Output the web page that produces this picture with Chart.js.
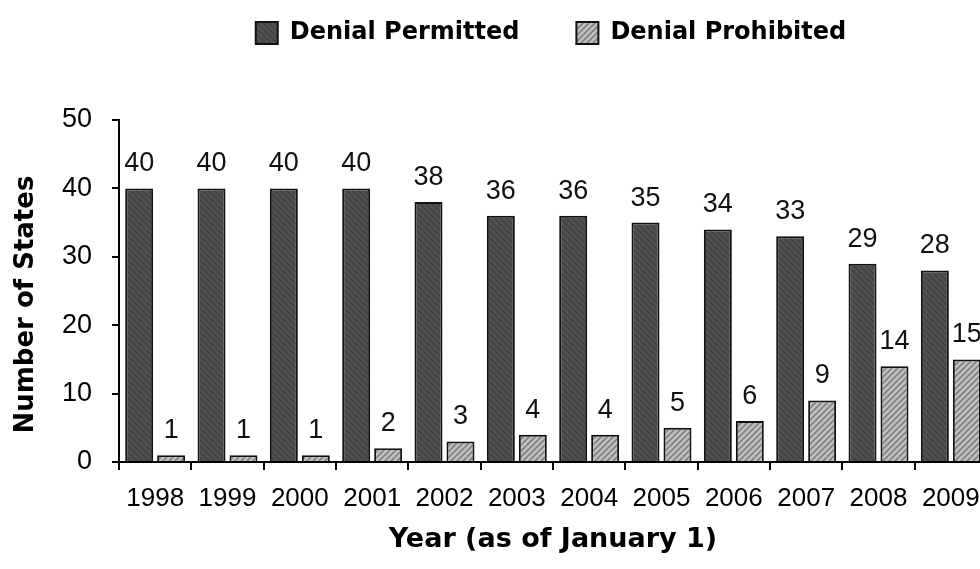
<!DOCTYPE html>
<html>
<head>
<meta charset="utf-8">
<script src="https://cdn.jsdelivr.net/npm/chart.js@4.4.1/dist/chart.umd.min.js"></script>
<style>
  html, body { margin: 0; padding: 0; background: #fff; overflow: hidden; }
  #wrap { width: 1102px; height: 569px; }
</style>
</head>
<body>
<div id="wrap"><canvas id="c" width="1102" height="569"></canvas></div>
<script>
const years = ['1998','1999','2000','2001','2002','2003','2004','2005','2006','2007','2008','2009'];
const denialPermitted = [40, 40, 40, 40, 38, 36, 36, 35, 34, 33, 29, 28];
const denialProhibited = [1, 1, 1, 2, 3, 4, 4, 5, 6, 9, 14, 15];
const seriesNames = ['Denial Permitted', 'Denial Prohibited'];
const yTicks = [0, 10, 20, 30, 40, 50];

function makePattern(bg, fg, dir, size, lw) {
  const c = document.createElement('canvas');
  c.width = size; c.height = size;
  const x = c.getContext('2d');
  x.fillStyle = bg; x.fillRect(0, 0, size, size);
  x.strokeStyle = fg; x.lineWidth = lw;
  x.beginPath();
  if (dir === '/') {
    x.moveTo(0, size); x.lineTo(size, 0);
    x.moveTo(-1, 1); x.lineTo(1, -1);
    x.moveTo(size - 1, size + 1); x.lineTo(size + 1, size - 1);
  } else {
    x.moveTo(0, 0); x.lineTo(size, size);
    x.moveTo(-1, size - 1); x.lineTo(1, size + 1);
    x.moveTo(size - 1, -1); x.lineTo(size + 1, 1);
  }
  x.stroke();
  return document.getElementById('c').getContext('2d').createPattern(c, 'repeat');
}

const darkFill = makePattern('#505050', '#414141', '\\', 6, 1.4);
const lightFill = makePattern('#c0c0c0', '#808080', '/', 6, 1.6);

const valueLabels = {
  id: 'valueLabels',
  afterDatasetsDraw(chart) {
    const ctx = chart.ctx;
    ctx.save();
    ctx.font = '27px "Liberation Sans", Arial, sans-serif';
    ctx.fillStyle = '#111';
    ctx.textAlign = 'center';
    ctx.textBaseline = 'alphabetic';
    chart.data.datasets.forEach((ds, i) => {
      const meta = chart.getDatasetMeta(i);
      meta.data.forEach((el, j) => {
        ctx.fillText(String(ds.data[j]), el.x, el.y - 17);
      });
    });
    ctx.restore();
  }
};

const legendFix = {
  id: 'legendFix',
  beforeLayout(chart) {
    const lg = chart.legend;
    if (lg && !lg._patched) {
      const f = lg.fit;
      lg.fit = function () { f.call(this); this.height = 156; };
      lg._patched = true;
    }
  }
};

new Chart(document.getElementById('c'), {
  type: 'bar',
  data: {
    labels: years,
    datasets: [
      { label: seriesNames[0], data: denialPermitted, backgroundColor: darkFill, borderColor: '#111', borderWidth: 2 },
      { label: seriesNames[1], data: denialProhibited, backgroundColor: lightFill, borderColor: '#111', borderWidth: 2 }
    ]
  },
  options: {
    responsive: false,
    animation: false,
    devicePixelRatio: 1,
    layout: { padding: { top: -36, left: 0, right: 0, bottom: 0 } },
    datasets: { bar: { categoryPercentage: 0.884, barPercentage: 0.875 } },
    plugins: {
      tooltip: { enabled: false },
      legend: {
        position: 'top',
        labels: {
          boxWidth: 22, boxHeight: 22, padding: 57,
          color: '#000',
          font: { family: '"DejaVu Sans", sans-serif', size: 24, weight: 'bold' }
        }
      }
    },
    scales: {
      x: {
        grid: { display: true, offset: true, drawOnChartArea: false, drawTicks: true, tickLength: 8, color: '#000', lineWidth: 2 },
        border: { display: true, color: '#000', width: 2 },
        ticks: { color: '#000', padding: 13, maxRotation: 0, font: { family: '"Liberation Sans", Arial, sans-serif', size: 26 } },
        title: { display: true, text: 'Year (as of January 1)', color: '#000', padding: { top: 0, bottom: 13 },
                 font: { family: '"DejaVu Sans", sans-serif', size: 27, weight: 'bold' } },
        afterFit(s) { s.height = 107; }
      },
      y: {
        min: 0, max: 50,
        afterBuildTicks(s) { s.ticks = yTicks.map(v => ({ value: v })); },
        grid: { display: true, drawOnChartArea: false, drawTicks: true, tickLength: 7, color: '#000', lineWidth: 2 },
        border: { display: true, color: '#000', width: 2 },
        ticks: { color: '#000', padding: 20, font: { family: '"Liberation Sans Narrow", "Arial Narrow", "Liberation Sans", sans-serif', size: 27 } },
        title: { display: true, text: 'Number of States   ', color: '#000', padding: { top: 11, bottom: 0 },
                 font: { family: '"DejaVu Sans", sans-serif', size: 26, weight: 'bold' } },
        afterFit(s) { s.width = 119; }
      },
      y2: {
        type: 'linear', position: 'right', display: true,
        grid: { display: false, drawTicks: false },
        border: { display: false },
        ticks: { display: false },
        afterFit(s) { s.width = 115; }
      }
    }
  },
  plugins: [valueLabels, legendFix]
});
</script>
</body>
</html>
